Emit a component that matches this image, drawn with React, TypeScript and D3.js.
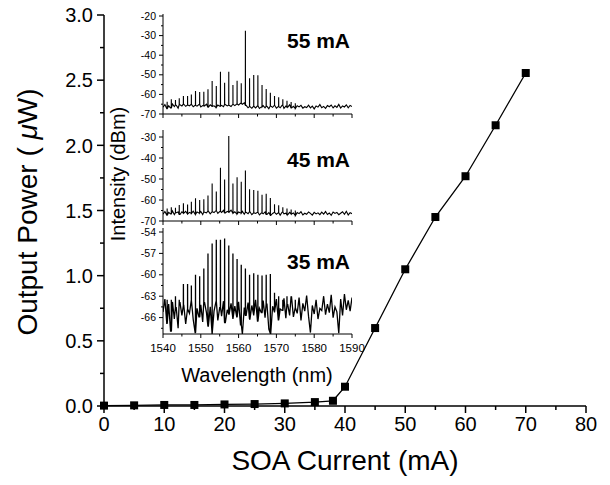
import React from 'react';
import * as d3 from 'd3';

// main curve: SOA current (mA) vs output power (uW)
const current = [0, 5, 10, 15, 20, 25, 30, 35, 38, 40, 45, 50, 55, 60, 65, 70];
const power = [0.003, 0.005, 0.008, 0.008, 0.012, 0.015, 0.02, 0.03, 0.04, 0.148, 0.598, 1.049, 1.45, 1.763, 2.154, 2.555];

const xTicks = [0, 10, 20, 30, 40, 50, 60, 70, 80];
const yTicks = [0, 0.5, 1.0, 1.5, 2.0, 2.5, 3.0];

// inset spectra: longitudinal mode positions (nm) and peak levels (dBm)
const modeWl = [1541.1, 1542.2, 1543.3, 1544.3, 1545.4, 1546.5, 1547.5, 1548.6, 1549.7, 1550.8,
  1551.9, 1553.0, 1554.1, 1555.2, 1556.3, 1557.4, 1558.5, 1559.6, 1560.7, 1561.8,
  1562.9, 1564.0, 1565.1, 1566.2, 1567.3, 1568.4, 1569.5, 1570.6, 1571.7, 1572.8, 1573.9, 1575.0];

const peaks55 = [-63.7, -62.5, -62.8, -62.0, -60.8, -60.8, -60.0, -58.3, -58.8, -58.6,
  -57.4, -53.2, -55.7, -48.4, -54.0, -48.4, -55.2, -53.0, -54.3, -27.5,
  -51.8, -50.1, -50.2, -55.2, -57.2, -59.1, -60.8, -61.5, -62.5, -63.2, -63.9, -64.5];

const peaks45 = [-64.0, -63.5, -63.7, -62.4, -61.6, -62.1, -60.8, -59.2, -60.0, -59.7,
  -57.9, -52.1, -56.0, -44.6, -50.2, -29.5, -52.1, -49.2, -51.3, -46.0,
  -54.9, -55.2, -55.6, -57.5, -57.0, -59.0, -62.0, -62.5, -63.5, -64.0, -64.5, -65.0];

const peaks35 = [-63.5, -63.5, -63.0, -63.5, -61.3, -61.3, -61.5, -60.0, -60.2, -59.1,
  -57.0, -55.6, -55.1, -55.1, -54.9, -55.9, -57.0, -57.8, -58.6, -59.1,
  -60.0, -59.8, -60.0, -60.1, -60.0, -59.9, -62.5, -63.0, -63.5, -63.0, -63.5, -63.5];

// noise floor sampled every 0.5 nm from 1540 to 1590
const gridStart = 1540;
const gridStep = 0.5;

const floor55 = [
  -66.5, -65.2, -67.3, -65.8, -66.9, -64.9, -66.2, -65.5, -67.0, -65.3,
  -65.9, -65.0, -66.1, -65.4, -65.8, -65.1, -66.3, -65.6, -66.0, -65.2,
  -66.4, -65.7, -65.9, -65.0, -66.5, -65.3, -66.1, -65.8, -66.6, -65.4,
  -66.0, -65.6, -66.3, -65.2, -65.9, -65.5, -66.2, -65.0, -65.7, -64.9,
  -65.4, -64.6, -65.0, -64.3, -65.6, -66.8, -66.2, -67.1, -66.0, -66.9,
  -65.8, -67.2, -66.4, -65.7, -66.9, -66.1, -67.3, -65.9, -66.6, -65.5,
  -67.0, -66.2, -66.8, -65.6, -67.1, -66.0, -66.5, -65.3, -66.9, -66.1,
  -67.2, -65.8, -66.4, -65.6, -67.0, -66.3, -66.7, -65.5, -66.9, -66.0,
  -67.4, -65.9, -66.5, -65.2, -66.8, -66.1, -67.1, -65.7, -66.3, -65.4,
  -66.9, -65.8, -66.6, -65.1, -67.0, -65.9, -66.4, -65.3, -66.8, -65.6,
  -66.2];

const floor45 = [
  -66.8, -65.5, -67.2, -65.9, -66.6, -65.2, -67.0, -66.1, -65.7, -66.9,
  -65.6, -66.3, -65.4, -66.7, -65.9, -66.4, -65.3, -66.8, -65.7, -66.2,
  -65.5, -66.9, -65.8, -66.1, -65.3, -66.6, -65.6, -66.0, -65.1, -66.4,
  -65.5, -65.9, -64.9, -66.2, -65.4, -65.8, -64.8, -66.3, -65.6, -66.7,
  -65.7, -66.2, -65.4, -66.8, -65.9, -66.5, -65.6, -67.0, -66.1, -66.4,
  -65.8, -67.1, -66.2, -66.6, -65.7, -66.9, -66.0, -67.3, -66.4, -65.9,
  -66.8, -66.1, -67.2, -65.8, -66.6, -66.3, -67.0, -65.9, -66.7, -66.2,
  -67.4, -66.0, -66.5, -65.6, -67.1, -66.3, -66.8, -65.7, -66.4, -67.2,
  -65.9, -66.6, -66.1, -67.0, -65.8, -66.7, -65.5, -66.9, -66.2, -67.3,
  -65.7, -66.4, -65.9, -67.0, -66.3, -65.6, -66.8, -65.4, -67.1, -66.0,
  -66.5];

const floor35 = [
  -65.2, -63.4, -66.8, -64.1, -67.9, -63.8, -66.2, -64.6, -67.5, -63.9,
  -65.7, -64.3, -66.9, -64.8, -65.4, -63.6, -66.3, -68.1, -64.7, -65.9,
  -64.2, -66.6, -63.9, -65.3, -67.2, -64.5, -68.2, -65.1, -63.8, -66.4,
  -64.6, -65.8, -63.7, -66.7, -64.9, -65.5, -64.0, -66.1, -64.4, -65.9,
  -63.8, -67.0, -68.3, -64.6, -65.7, -63.9, -66.2, -64.3, -65.6, -63.5,
  -66.5, -64.7, -65.3, -63.6, -66.0, -64.1, -67.6, -68.2, -64.4, -65.2,
  -63.4, -66.3, -64.8, -65.0, -63.3, -66.1, -64.2, -65.7, -63.1, -65.9,
  -64.6, -65.4, -63.2, -66.4, -64.0, -65.1, -62.9, -65.8, -68.1, -64.3,
  -65.5, -63.5, -66.2, -64.7, -65.0, -63.0, -65.6, -64.1, -65.3, -62.8,
  -66.0, -64.5, -65.2, -68.2, -63.4, -65.7, -62.7, -64.9, -63.6, -65.1,
  -63.2];

const wlTicks = [1540, 1550, 1560, 1570, 1580, 1590];
const ticks55 = [-20, -30, -40, -50, -60, -70];
const ticks45 = [-30, -40, -50, -60, -70];
const ticks35 = [-54, -57, -60, -63, -66];

const FONT = 'Liberation Sans, Arial, sans-serif';

type Pt = [number, number];

function spectrumPoints(floor: number[], peaks: number[]): Pt[] {
  const pts: Pt[] = floor.map((v, i) => [gridStart + i * gridStep, v] as Pt);
  modeWl.forEach((w, k) => {
    const j = Math.min(floor.length - 1, Math.round((w - gridStart) / gridStep));
    const base = floor[j];
    pts.push([w - 0.02, base], [w, peaks[k]], [w + 0.02, base]);
  });
  pts.sort((a, b) => a[0] - b[0]);
  return pts;
}

const wl = d3.scaleLinear().domain([1540, 1590]).range([163, 352]);

function Panel(props: {
  id: string; y: d3.ScaleLinear<number, number>; top: number; ticks: number[]; minor: number[];
  floor: number[]; peaks: number[]; label: string; labelY: number; showX: boolean; sw: number;
}) {
  const { id, y, top, ticks, minor, floor, peaks, label, labelY, showX, sw } = props;
  const bottom = y.range()[0];
  const line = d3.line<Pt>().x(d => wl(d[0])).y(d => y(d[1]));
  const wlMinor = d3.range(1540, 1591, 5);
  return (
    <g>
      <clipPath id={id}>
        <rect x={wl(1540)} y={top} width={wl(1590) - wl(1540)} height={bottom - top} />
      </clipPath>
      <path d={line(spectrumPoints(floor, peaks)) || ''} fill="none" stroke="#000" strokeWidth={sw} clipPath={`url(#${id})`} />
      <line x1={wl(1540)} x2={wl(1540)} y1={top} y2={bottom} stroke="#000" strokeWidth={1} />
      <line x1={wl(1540)} x2={wl(1590)} y1={bottom} y2={bottom} stroke="#000" strokeWidth={1} />
      {ticks.map(t => (
        <g key={t}>
          <line x1={wl(1540) - 4} x2={wl(1540)} y1={y(t)} y2={y(t)} stroke="#000" />
          <text x={wl(1540) - 7} y={y(t)} dy="0.35em" textAnchor="end" fontSize={10.5} fontFamily={FONT}>{t}</text>
        </g>
      ))}
      {minor.map(t => (
        <line key={t} x1={wl(1540) - 2} x2={wl(1540)} y1={y(t)} y2={y(t)} stroke="#000" />
      ))}
      {wlMinor.map(t => (
        <line key={t} x1={wl(t)} x2={wl(t)} y1={bottom} y2={bottom + (t % 10 === 0 ? 4 : 2.5)} stroke="#000" />
      ))}
      {showX && wlTicks.map(t => (
        <text key={t} x={wl(t)} y={bottom + 18} textAnchor="middle" fontSize={11.5} fontFamily={FONT}>{t}</text>
      ))}
      <text x={350} y={labelY} textAnchor="end" fontSize={21} fontWeight="bold" fontFamily={FONT}>{label}</text>
    </g>
  );
}

export default function App() {
  const x = d3.scaleLinear().domain([0, 80]).range([104, 586]);
  const y = d3.scaleLinear().domain([0, 3]).range([406, 15]);
  const pts: Pt[] = current.map((c, i) => [c, power[i]]);
  const line = d3.line<Pt>().x(d => x(d[0])).y(d => y(d[1]));
  const xMinor = d3.range(5, 80, 10);
  const yMinor = d3.range(0.25, 3, 0.5);

  const y55 = d3.scaleLinear().domain([-70, -20]).range([114, 16]);
  const y45 = d3.scaleLinear().domain([-70, -30]).range([221, 137]);
  const y35 = d3.scaleLinear().domain([-68.3, -54]).range([334, 232]);

  return (
    <svg width={610} height={485} style={{ position: 'absolute', left: 0, top: 0, background: '#fff' }}>
      {/* main axes */}
      <line x1={x(0)} x2={x(80)} y1={y(0)} y2={y(0)} stroke="#000" strokeWidth={1.5} />
      <line x1={x(0)} x2={x(0)} y1={y(0)} y2={y(3)} stroke="#000" strokeWidth={1.5} />
      {xTicks.map(t => (
        <g key={t}>
          <line x1={x(t)} x2={x(t)} y1={y(0)} y2={y(0) + 7} stroke="#000" strokeWidth={1.5} />
          <text x={x(t)} y={y(0) + 25} textAnchor="middle" fontSize={20} fontFamily={FONT}>{t}</text>
        </g>
      ))}
      {xMinor.map(t => (
        <line key={t} x1={x(t)} x2={x(t)} y1={y(0)} y2={y(0) + 4} stroke="#000" strokeWidth={1.5} />
      ))}
      {yTicks.map(t => (
        <g key={t}>
          <line x1={x(0) - 7} x2={x(0)} y1={y(t)} y2={y(t)} stroke="#000" strokeWidth={1.5} />
          <text x={x(0) - 11} y={y(t)} dy="0.36em" textAnchor="end" fontSize={20} fontFamily={FONT}>{t.toFixed(1)}</text>
        </g>
      ))}
      {yMinor.map(t => (
        <line key={t} x1={x(0) - 4} x2={x(0)} y1={y(t)} y2={y(t)} stroke="#000" strokeWidth={1.5} />
      ))}
      <text x={345} y={470} textAnchor="middle" fontSize={28} fontFamily={FONT}>SOA Current (mA)</text>
      <text transform="translate(37,212) rotate(-90)" textAnchor="middle" fontSize={28} fontFamily={FONT}>
        Output Power ( <tspan fontStyle="italic">μ</tspan>W)
      </text>

      {/* inset */}
      <Panel id="c55" y={y55} top={14} ticks={ticks55} minor={d3.range(-65, -20, 10)} floor={floor55} peaks={peaks55}
        label="55 mA" labelY={48} showX={false} sw={1.1} />
      <Panel id="c45" y={y45} top={130} ticks={ticks45} minor={d3.range(-65, -30, 10)} floor={floor45} peaks={peaks45}
        label="45 mA" labelY={167} showX={false} sw={1.1} />
      <Panel id="c35" y={y35} top={228} ticks={ticks35} minor={d3.range(-67.5, -54, 1.5).filter(v => !ticks35.includes(v))} floor={floor35} peaks={peaks35}
        label="35 mA" labelY={269} showX={true} sw={1.3} />
      <text x={257} y={382} textAnchor="middle" fontSize={20} fontFamily={FONT}>Wavelength (nm)</text>
      <text transform="translate(125,174) rotate(-90)" textAnchor="middle" fontSize={20} fontFamily={FONT}>Intensity (dBm)</text>

      {/* main curve */}
      <path d={line(pts) || ''} fill="none" stroke="#000" strokeWidth={1.3} />
      {pts.map((p, i) => (
        <rect key={i} x={x(p[0]) - 4} y={y(p[1]) - 4} width={8} height={8} fill="#000" />
      ))}
    </svg>
  );
}
